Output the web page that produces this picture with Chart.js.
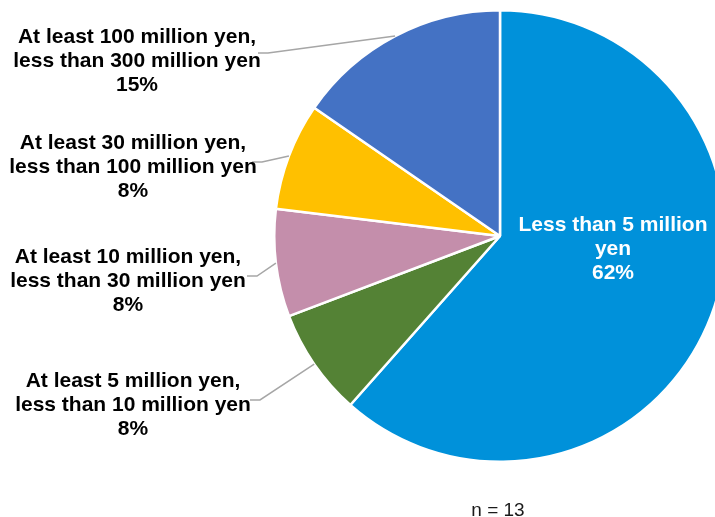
<!DOCTYPE html>
<html>
<head>
<meta charset="utf-8">
<script src="https://cdn.jsdelivr.net/npm/chart.js@4/dist/chart.umd.min.js"></script>
<style>
  html, body { margin: 0; padding: 0; background: #ffffff; }
  #wrap { position: relative; width: 715px; height: 517px; overflow: hidden; }
  #chart { position: absolute; left: 0; top: 0; }
</style>
</head>
<body>
<div id="wrap"><canvas id="chart" width="1000" height="517"></canvas></div>
<script>
// Survey answers by amount (n = 13), clockwise from 12 o'clock
const categoryLines = [
  ['Less than 5 million', 'yen'],
  ['At least 5 million yen,', 'less than 10 million yen'],
  ['At least 10 million yen,', 'less than 30 million yen'],
  ['At least 30 million yen,', 'less than 100 million yen'],
  ['At least 100 million yen,', 'less than 300 million yen']
];
const categories = categoryLines.map(l => l.join(' '));
const counts = [8, 1, 1, 1, 2];
const sliceColors = ['#0091DA', '#548235', '#C48EAB', '#FFC000', '#4472C4'];
const sampleNote = 'n = 13';

// Where each label block sits (centre x, middle-line y) and where its leader line stops
const labelLayout = [
  { x: 613, y: 249, inside: true },
  { x: 133, y: 405, lineX: 250, lineY: 400 },
  { x: 128, y: 281, lineX: 247, lineY: 276 },
  { x: 133, y: 167, lineX: 252, lineY: 162 },
  { x: 137, y: 61,  lineX: 258, lineY: 53 }
];

const FONT = '"Liberation Sans", Arial, sans-serif';

const sliceLabels = {
  id: 'sliceLabels',
  afterDraw(chart) {
    const ctx = chart.ctx;
    const meta = chart.getDatasetMeta(0);
    const data = chart.data.datasets[0].data;
    const total = data.reduce((a, b) => a + b, 0);
    ctx.save();
    meta.data.forEach((arc, i) => {
      const p = arc.getProps(['x', 'y', 'startAngle', 'endAngle', 'outerRadius'], true);
      const mid = (p.startAngle + p.endAngle) / 2;
      const lay = labelLayout[i];
      const lines = categoryLines[i].concat([Math.round(data[i] / total * 100) + '%']);
      if (!lay.inside) {
        const ax = p.x + Math.cos(mid) * p.outerRadius;
        const ay = p.y + Math.sin(mid) * p.outerRadius;
        ctx.strokeStyle = '#A6A6A6';
        ctx.lineWidth = 1.5;
        ctx.beginPath();
        ctx.moveTo(ax, ay);
        ctx.lineTo(lay.lineX + 10, lay.lineY);
        ctx.lineTo(lay.lineX, lay.lineY);
        ctx.stroke();
      }
      ctx.fillStyle = lay.inside ? '#ffffff' : '#000000';
      ctx.font = 'bold 21px ' + FONT;
      ctx.textAlign = 'center';
      ctx.textBaseline = 'middle';
      const lh = 24;
      const top = lay.y - lh * (lines.length - 1) / 2;
      lines.forEach((t, k) => ctx.fillText(t, lay.x, top + k * lh));
    });
    // sample size note
    ctx.fillStyle = '#1a1a1a';
    ctx.font = '19px ' + FONT;
    ctx.textAlign = 'center';
    ctx.textBaseline = 'alphabetic';
    ctx.fillText(sampleNote, 498, 516);
    ctx.restore();
  }
};

new Chart(document.getElementById('chart'), {
  type: 'pie',
  data: {
    labels: categories,
    datasets: [{
      data: counts,
      backgroundColor: sliceColors,
      borderColor: '#ffffff',
      borderWidth: 2.5
    }]
  },
  options: {
    responsive: false,
    animation: false,
    layout: { padding: { left: 273, right: 273, top: 9, bottom: 54 } },
    plugins: { legend: { display: false }, tooltip: { enabled: false } }
  },
  plugins: [sliceLabels]
});
</script>
</body>
</html>
